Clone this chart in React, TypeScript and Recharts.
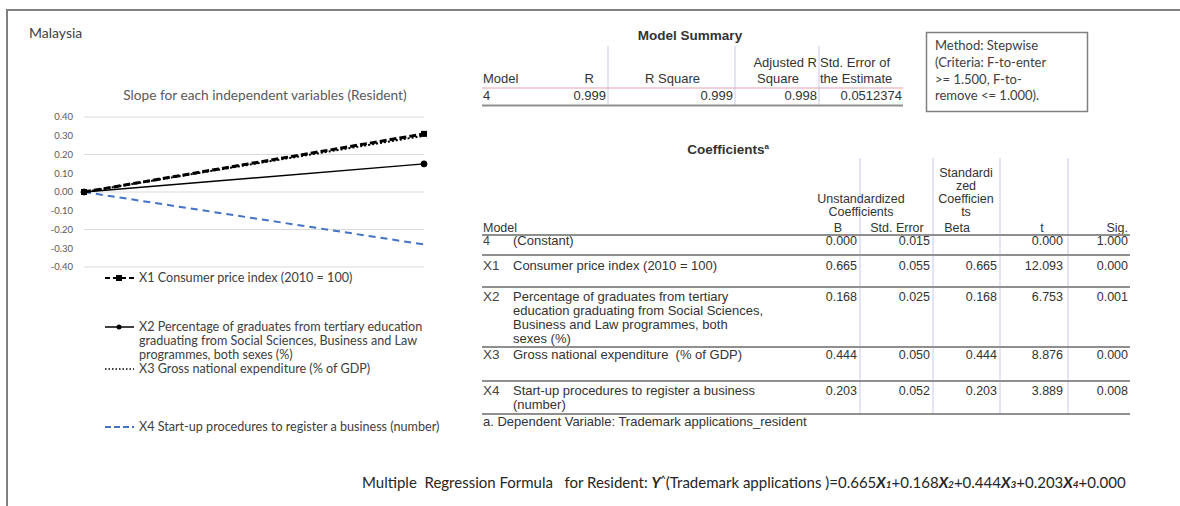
import { LineChart, Line, XAxis, YAxis, CartesianGrid } from "recharts";

// slope chart: each variable from 0 to its end value
const categories = ["start", "end"];
const x1Values = [0, 0.31];
const x2Values = [0, 0.15];
const x3Values = [0, 0.3];
const x4Values = [0, -0.28];
const yTicks = [-0.4, -0.3, -0.2, -0.1, 0, 0.1, 0.2, 0.3, 0.4];

const legendLabels = [
  ["X1 Consumer price index (2010 = 100)"],
  [
    "X2 Percentage of graduates from tertiary education",
    "graduating from Social Sciences, Business and Law",
    "programmes, both sexes (%)",
  ],
  ["X3 Gross national expenditure (% of GDP)"],
  ["X4 Start-up procedures to register a business (number)"],
];

// model summary
const summaryHead1 = ["", "", "", "Adjusted R", "Std. Error of"];
const summaryHead2 = ["Model", "R", "R Square", "Square", "the Estimate"];
const summaryRow = ["4", "0.999", "0.999", "0.998", "0.0512374"];
const methodLines = ["Method: Stepwise", "(Criteria: F-to-enter", ">= 1.500, F-to-", "remove <= 1.000)."];

// coefficients
const coefIds = ["4", "X1", "X2", "X3", "X4"];
const coefLabels = [
  ["(Constant)"],
  ["Consumer price index (2010 = 100)"],
  [
    "Percentage of graduates from tertiary",
    "education graduating from Social Sciences,",
    "Business and Law programmes, both",
    "sexes (%)",
  ],
  ["Gross national expenditure  (% of GDP)"],
  ["Start-up procedures to register a business", "(number)"],
];
const coefB = ["0.000", "0.665", "0.168", "0.444", "0.203"];
const coefSE = ["0.015", "0.055", "0.025", "0.050", "0.052"];
const coefBeta = ["", "0.665", "0.168", "0.444", "0.203"];
const coefT = ["0.000", "12.093", "6.753", "8.876", "3.889"];
const coefSig = ["1.000", "0.000", "0.001", "0.000", "0.008"];
const formulaCoefs = ["0.665", "0.168", "0.444", "0.203"];
const formulaConst = "0.000";

const data = categories.map((c, i) => ({
  name: c,
  x1: x1Values[i],
  x2: x2Values[i],
  x3: x3Values[i],
  x4: x4Values[i],
}));

const CAL = "Lato, 'Open Sans', sans-serif";
const ARIAL = "'Liberation Sans', Arial, sans-serif";
const TXT = "#333";
const GRID_V = "#c9c9ef";
const RULE = "#8f8f8f";

const coefRowY = [241, 266, 297, 355, 391];
const coefRules = [235, 255, 287, 347, 381, 414];
const coefCols = [857, 930, 997, 1063, 1128];

function Overlay() {
  const legendY = [278, 327, 369, 427];
  return (
    <svg width={1180} height={506} style={{ position: "absolute", left: 0, top: 0 }}>
      {/* frame */}
      <line x1={7} y1={10} x2={1180} y2={10} stroke="#808080" strokeWidth={2} />
      <line x1={7} y1={9} x2={7} y2={506} stroke="#808080" strokeWidth={2} />

      <text x={29} y={38} fontFamily={CAL} fontSize={14} fill="#404040">Malaysia</text>
      <text x={265} y={100} textAnchor="middle" fontFamily={CAL} fontSize={13.7} fill="#595959">
        Slope for each independent variables (Resident)
      </text>

      {/* legend */}
      <g fontFamily={CAL} fontSize={12.6} fill="#404040">
        <line x1={105} x2={134} y1={legendY[0]} y2={legendY[0]} stroke="#000" strokeWidth={2} strokeDasharray="5 3" />
        <rect x={116} y={legendY[0] - 3} width={6} height={6} fill="#000" />
        <line x1={105} x2={134} y1={legendY[1]} y2={legendY[1]} stroke="#000" strokeWidth={1.5} />
        <circle cx={119} cy={legendY[1]} r={2.5} fill="#000" />
        <line x1={105} x2={134} y1={legendY[2]} y2={legendY[2]} stroke="#000" strokeWidth={1.5} strokeDasharray="1.5 2" />
        <line x1={105} x2={134} y1={legendY[3]} y2={legendY[3]} stroke="#4472C4" strokeWidth={2} strokeDasharray="6 3" />
        {legendLabels.map((lines, i) =>
          lines.map((l, j) => (
            <text key={`${i}-${j}`} x={139} y={legendY[i] + 4 + j * 14}>{l}</text>
          ))
        )}
      </g>

      {/* model summary */}
      <g fontFamily={ARIAL} fontSize={13} fill={TXT}>
        <text x={690} y={40} textAnchor="middle" fontWeight="bold" fontSize={13.5}>Model Summary</text>
        {[608, 735, 819].map((x) => (
          <line key={x} x1={x} x2={x} y1={46} y2={105} stroke={GRID_V} />
        ))}
        <text x={817} y={67} textAnchor="end">{summaryHead1[3]}</text>
        <text x={820} y={67}>{summaryHead1[4]}</text>
        <text x={483} y={83}>{summaryHead2[0]}</text>
        <text x={594} y={83} textAnchor="end">{summaryHead2[1]}</text>
        <text x={700} y={83} textAnchor="end">{summaryHead2[2]}</text>
        <text x={778} y={83} textAnchor="middle">{summaryHead2[3]}</text>
        <text x={820} y={83}>{summaryHead2[4]}</text>
        <line x1={482} x2={903} y1={88} y2={88} stroke="#e2a3b3" />
        <text x={483} y={100}>{summaryRow[0]}</text>
        {[606, 733, 817, 902].map((x, i) => (
          <text key={x} x={x} y={100} textAnchor="end">{summaryRow[i + 1]}</text>
        ))}
        <line x1={482} x2={903} y1={105.5} y2={105.5} stroke={RULE} strokeWidth={2} />
      </g>

      {/* method box */}
      <rect x={926.5} y={32.5} width={161} height={79} fill="none" stroke="#808080" strokeWidth={1.5} />
      <g fontFamily={CAL} fontSize={13} fill="#404040">
        {methodLines.map((l, i) => (
          <text key={i} x={935} y={50 + i * 16.8}>{l}</text>
        ))}
      </g>

      {/* coefficients */}
      <g fontFamily={ARIAL} fontSize={13} fill={TXT}>
        <text x={728} y={154} textAnchor="middle" fontWeight="bold" fontSize={13.5}>
          Coefficients<tspan fontSize={8} dy={-5}>a</tspan>
        </text>
        {[860, 933, 1000, 1068].map((x) => (
          <line key={x} x1={x} x2={x} y1={158} y2={414} stroke={GRID_V} />
        ))}
        <g fontSize={12.5}>
          {["Standardi", "zed", "Coefficien", "ts"].map((s, i) => (
            <text key={s} x={966} y={177 + i * 13} textAnchor="middle">{s}</text>
          ))}
          <text x={861} y={203} textAnchor="middle">Unstandardized</text>
          <text x={861} y={216} textAnchor="middle">Coefficients</text>
          <text x={483} y={232}>Model</text>
          <text x={838} y={232} textAnchor="middle">B</text>
          <text x={897} y={232} textAnchor="middle">Std. Error</text>
          <text x={957} y={232} textAnchor="middle">Beta</text>
          <text x={1042} y={232} textAnchor="middle">t</text>
          <text x={1128} y={232} textAnchor="end">Sig.</text>
        </g>
        {coefRules.map((y) => (
          <line key={y} x1={482} x2={1130} y1={y} y2={y} stroke={RULE} strokeWidth={2} />
        ))}
        {coefIds.map((id, i) => {
          const y = coefRowY[i] + 4;
          const vals = [coefB[i], coefSE[i], coefBeta[i], coefT[i], coefSig[i]];
          return (
            <g key={id}>
              <text x={483} y={y} fontSize={id === "4" ? 12.5 : 13.5} fill="#444">{id}</text>
              {coefLabels[i].map((l, j) => (
                <text key={j} x={513} y={y + j * 14} xmlSpace="preserve">{l}</text>
              ))}
              {vals.map((v, k) => (
                <text key={k} x={coefCols[k]} y={y} textAnchor="end" fontSize={12.5}>{v}</text>
              ))}
            </g>
          );
        })}
        <text x={483} y={426}>a. Dependent Variable: Trademark applications_resident</text>
      </g>

      {/* regression formula */}
      <text x={362} y={488} fontFamily={CAL} fontSize={15} fill="#262626" xmlSpace="preserve">
        {"Multiple  Regression Formula   for Resident: "}
        <tspan fontWeight="bold" fontStyle="italic">Y</tspan>
        <tspan fontSize={9} dy={-6} fontWeight="bold">^</tspan>
        <tspan dy={6}>{"(Trademark applications )="}</tspan>
        {formulaCoefs.map((c, i) => (
          <tspan key={i}>
            {(i > 0 ? "+" : "") + c}
            <tspan fontWeight="bold" fontStyle="italic">X</tspan>
            <tspan fontSize={10} fontWeight="bold" fontStyle="italic">{i + 1}</tspan>
          </tspan>
        ))}
        <tspan>{"+" + formulaConst}</tspan>
      </text>
    </svg>
  );
}

function SlopeChart() {
  const square = (color: string) => (p: any) => (
    <rect key={`sq-${p.index}`} x={p.cx - 3} y={p.cy - 3} width={6} height={6} fill={color} />
  );
  return (
    <div style={{ position: "absolute", left: 30, top: 110 }}>
      <LineChart width={410} height={165} data={data} margin={{ top: 7, right: 16, bottom: 8, left: 0 }}>
        <CartesianGrid vertical={false} stroke="#d9d9d9" />
        <XAxis dataKey="name" hide />
        <YAxis
          domain={[-0.4, 0.4]}
          ticks={yTicks}
          width={54}
          axisLine={false}
          tickLine={false}
          tickSize={0}
          tickMargin={11}
          tickFormatter={(v: number) => v.toFixed(2)}
          tick={{ fontSize: 9.5, fill: "#595959", fontFamily: CAL }}
        />
        <Line
          dataKey="x4"
          stroke="#4472C4"
          strokeWidth={2}
          strokeDasharray="7 5"
          dot={false}
          isAnimationActive={false}
        />
        <Line
          dataKey="x3"
          stroke="#000"
          strokeWidth={2}
          strokeDasharray="2 2"
          dot={false}
          isAnimationActive={false}
        />
        <Line
          dataKey="x1"
          stroke="#000"
          strokeWidth={3}
          strokeDasharray="7 3"
          dot={square("#000")}
          isAnimationActive={false}
        />
        <Line
          dataKey="x2"
          stroke="#000"
          strokeWidth={1.5}
          dot={{ r: 3, fill: "#000", stroke: "#000", strokeWidth: 1 }}
          isAnimationActive={false}
        />
      </LineChart>
    </div>
  );
}

export default function App() {
  return (
    <div
      style={{
        position: "absolute",
        left: 0,
        top: 0,
        width: 1180,
        height: 506,
        background: "#fff",
        overflow: "hidden",
      }}
    >
      <Overlay />
      <SlopeChart />
    </div>
  );
}
